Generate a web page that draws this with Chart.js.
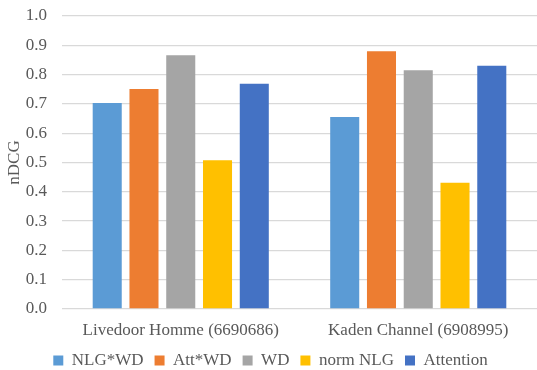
<!DOCTYPE html>
<html lang="en">
  <head>
    <meta charset="UTF-8" />
    <script src="https://cdn.jsdelivr.net/npm/chart.js@4.4.0/dist/chart.umd.min.js"></script>
    <title>nDCG</title>
    <style>
      body {
        margin: 0;
        padding: 0;
        background: #fff;
      }

      .container {
        width: 537px;
        height: 370px;
      }
    </style>
  </head>
  <body>
    <div class="container">
      <canvas id="chartNdcg"></canvas>
    </div>
    <script>
      const categories = ['Livedoor Homme (6690686)', 'Kaden Channel (6908995)']
      const nlgWd = [0.703, 0.655]
      const attWd = [0.751, 0.88]
      const wd = [0.866, 0.815]
      const normNlg = [0.508, 0.431]
      const attention = [0.769, 0.83]

      const series = [
        { label: 'NLG*WD', data: nlgWd, color: '#5B9BD5' },
        { label: 'Att*WD', data: attWd, color: '#ED7D31' },
        { label: 'WD', data: wd, color: '#A5A5A5' },
        { label: 'norm NLG', data: normNlg, color: '#FFC000' },
        { label: 'Attention', data: attention, color: '#4472C4' },
      ]

      const font = { family: "'Liberation Serif', 'Times New Roman', serif", size: 17 }
      const textColor = '#595959'

      const ctx = document.getElementById('chartNdcg').getContext('2d')
      new Chart(ctx, {
        type: 'bar',
        data: {
          labels: categories,
          datasets: series.map((s) => ({
            label: s.label,
            data: s.data,
            backgroundColor: s.color,
            borderWidth: 0,
            barPercentage: 0.79,
            categoryPercentage: 0.774,
          })),
        },
        options: {
          responsive: true,
          maintainAspectRatio: false,
          animation: false,
          layout: {
            padding: { left: 4, right: 0, top: 16, bottom: -9 },
          },
          plugins: {
            legend: {
              position: 'bottom',
              labels: {
                font: font,
                color: textColor,
                boxWidth: 10,
                boxHeight: 10,
                padding: 11,
              },
            },
            tooltip: { enabled: false },
          },
          scales: {
            x: {
              grid: { display: false, drawTicks: false },
              border: { display: false },
              ticks: { font: font, color: textColor, padding: 11 },
              afterFit: (scale) => {
                scale.height = 32
              },
            },
            y: {
              min: 0,
              max: 1,
              ticks: {
                stepSize: 0.1,
                font: font,
                color: textColor,
                padding: 15,
                callback: (v) => v.toFixed(1),
              },
              grid: { color: '#d9d9d9', lineWidth: 1.3, drawTicks: false },
              border: { display: false },
              title: {
                display: true,
                text: 'nDCG',
                font: font,
                color: textColor,
                padding: { top: 0, bottom: 0 },
              },
              afterFit: (scale) => {
                scale.width = 58
                scale.paddingTop = 10
                scale.paddingBottom = 0
              },
            },
          },
        },
      })
    </script>
  </body>
</html>
